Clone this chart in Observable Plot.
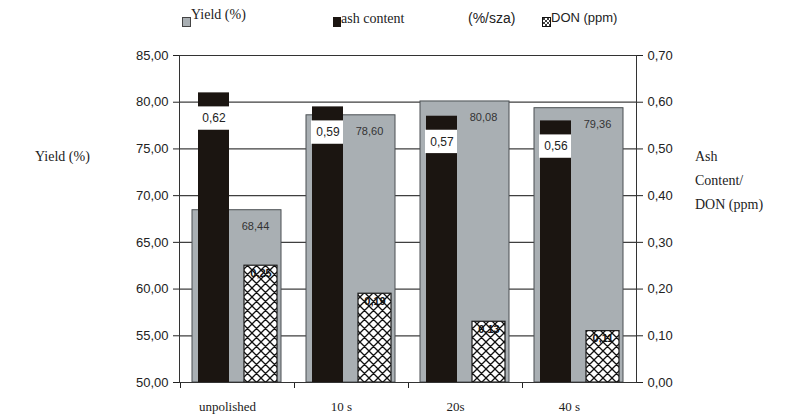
<!DOCTYPE html>
<html>
<head>
<meta charset="utf-8">
<script src="https://cdn.jsdelivr.net/npm/d3@7"></script>
<script src="https://cdn.jsdelivr.net/npm/@observablehq/plot@0.6"></script>
<style>
  html, body { margin: 0; padding: 0; background: #fff; }
  #wrap { position: relative; width: 793px; height: 416px; overflow: hidden; }
  #wrap svg.plot { position: absolute; left: 0; top: 0; }
  .lg { position: absolute; white-space: nowrap; color: #222; line-height: 1; }
  .serif { font-family: "Liberation Serif", "DejaVu Serif", serif; }
  .sans { font-family: "Liberation Sans", Arial, sans-serif; }
  .sw { position: absolute; }
</style>
</head>
<body>
<div id="wrap"></div>
<script>
const categories = ["unpolished", "10 s", "20s", "40 s"];
const yieldValues = [68.44, 78.60, 80.08, 79.36];
const ashValues = [0.62, 0.59, 0.57, 0.56];
const donValues = [0.25, 0.19, 0.13, 0.11];
const yieldTicks = [50, 55, 60, 65, 70, 75, 80, 85];
const rightTicks = [0, 0.1, 0.2, 0.3, 0.4, 0.5, 0.6, 0.7];

// right axis (0..0.70) mapped onto the yield scale (50..85)
const toY = v => 50 + v * 50;
const comma = (v, n) => v.toFixed(n).replace(".", ",");

const data = categories.map((c, i) => ({
  cat: c, yield: yieldValues[i], ash: ashValues[i], don: donValues[i]
}));

const chart = Plot.plot({
  width: 793, height: 416,
  marginLeft: 179, marginRight: 157, marginTop: 55, marginBottom: 34,
  style: { fontFamily: "Liberation Sans, Arial, sans-serif", fontSize: "13px", color: "#222", background: "transparent", overflow: "visible" },
  x: { type: "band", domain: categories, padding: 0, label: null },
  y: { domain: [50, 85], label: null },
  marks: [
    Plot.ruleY(yieldTicks, { stroke: "#3f3f3f", strokeWidth: 1.2 }),
    Plot.barY(data, { x: "cat", y1: 50, y2: "yield", fill: "#a9afb3", stroke: "#4a4f52", strokeWidth: 1, insetLeft: 12, insetRight: 13 }),
    Plot.barY(data, { x: "cat", y1: 50, y2: d => toY(d.ash), fill: "#1b1511", insetLeft: 18, insetRight: 65 }),
    Plot.barY(data, { x: "cat", y1: d => toY(d.ash) - 1.5, y2: d => toY(d.ash) - 4.0, fill: "white", insetLeft: 17, insetRight: 65 }),
    Plot.barY(data, { x: "cat", y1: 50, y2: d => toY(d.don), fill: "url(#hatch)", stroke: "#1a1a1a", strokeWidth: 1.2, insetLeft: 64, insetRight: 17 }),
    Plot.text(data, { x: "cat", y: d => toY(d.ash) - 2.75, text: d => comma(d.ash, 2), dx: -23.5, fontSize: 12, fill: "#222" }),
    Plot.text(data, { x: "cat", y: d => d.yield - 1.7, text: d => comma(d.yield, 2), dx: 18, fontSize: 11, fill: "#333" }),
    Plot.text(data, { x: "cat", y: d => toY(d.don) - 0.8, text: d => comma(d.don, 2), dx: 23.5, fontSize: 11, fill: "#111", fontWeight: "bold" }),
    Plot.axisY({ anchor: "left", ticks: yieldTicks, tickFormat: d => comma(d, 2), tickSize: 6, tickPadding: 5, label: null }),
    Plot.axisY({ anchor: "right", ticks: rightTicks.map(toY), tickFormat: d => comma((d - 50) / 50, 2), tickSize: 6, tickPadding: 5, label: null }),
    Plot.axisX({ tickSize: 6, dx: -57, tickFormat: () => "", label: null }),
    Plot.axisX({ tickSize: 0, dx: -10, dy: 10, fontFamily: "Liberation Serif, serif", fontSize: 13, label: null }),
    Plot.frame({ stroke: "#333", strokeWidth: 1 })
  ]
});

d3.select(chart).insert("defs", ":first-child").html(
  '<pattern id="hatch" patternUnits="userSpaceOnUse" width="9" height="9">' +
  '<rect width="9" height="9" fill="white"/>' +
  '<path d="M0,0L9,9M9,0L0,9M-1,8L1,10M8,-1L10,1M8,10L10,8M-1,1L1,-1" stroke="#111" stroke-width="1.3"/></pattern>'
);

const wrap = document.getElementById("wrap");
wrap.appendChild(chart);

function addText(txt, cls, left, top, size) {
  const s = document.createElement("div");
  s.className = "lg " + cls;
  s.style.left = left + "px";
  s.style.top = top + "px";
  s.style.fontSize = size + "px";
  s.textContent = txt;
  wrap.appendChild(s);
}
function addSwatch(left, top, html) {
  const s = document.createElement("div");
  s.className = "sw";
  s.style.left = left + "px";
  s.style.top = top + "px";
  s.innerHTML = html;
  wrap.appendChild(s);
}

// legend
addSwatch(182, 13, '<svg width="9" height="10"><rect x="0.5" y="0.5" width="8" height="9" fill="#a9afb3" stroke="#444"/></svg>');
addText("Yield (%)", "serif", 191, 8, 14);
addSwatch(333, 13, '<svg width="8" height="10"><rect width="8" height="10" fill="#1b1511"/></svg>');
addText("ash content", "serif", 341, 12, 14);
addText("(%/sza)", "sans", 468, 11, 14);
addSwatch(542, 13, '<svg width="9" height="10"><defs><pattern id="hl" patternUnits="userSpaceOnUse" width="4" height="4"><rect width="4" height="4" fill="white"/><path d="M0,0L4,4M4,0L0,4" stroke="#111" stroke-width="0.8"/></pattern></defs><rect x="0.5" y="0.5" width="8" height="9" fill="url(#hl)" stroke="#111"/></svg>');
addText("DON (ppm)", "sans", 551, 11, 13);

// axis titles
addText("Yield (%)", "serif", 35, 150, 14);
addText("Ash", "serif", 695, 150, 14);
addText("Content/", "serif", 695, 174, 14);
addText("DON (ppm)", "serif", 695, 198, 14);
</script>
</body>
</html>
